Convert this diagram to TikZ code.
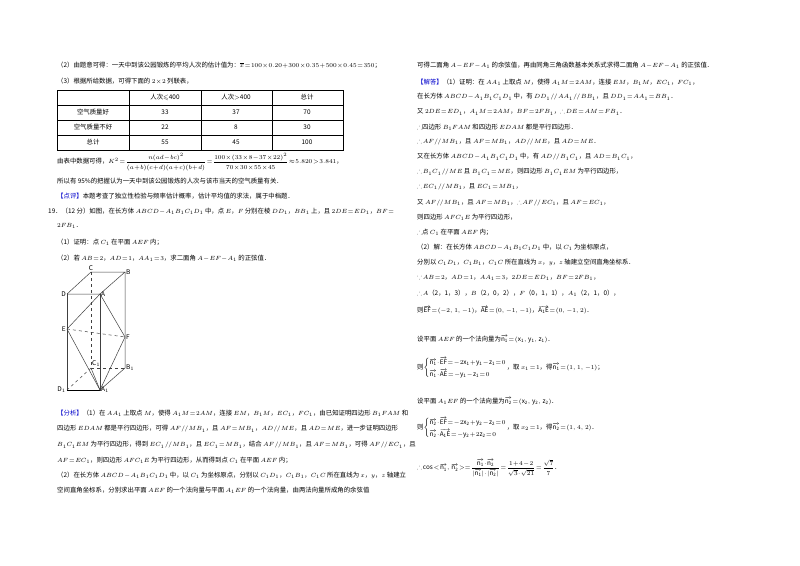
\documentclass[tikz,border=0pt]{standalone}
\usepackage{amsmath,amssymb}
\usepackage{fontspec}
\setmainfont{Noto Sans CJK SC}
\begin{document}
\thinmuskip=1mu \medmuskip=1mu plus 1mu \thickmuskip=1.5mu plus 1mu
\begin{tikzpicture}[x=1pt,y=-1pt,
 t/.style={anchor=west,inner sep=0,font=\fontsize{6.4}{8}\selectfont},
 c/.style={inner sep=0,font=\fontsize{6.4}{8}\selectfont},
 lb/.style={inner sep=1pt,font=\fontsize{6.5}{7}\selectfont\itshape},
 e/.style={line width=0.5pt,black!75},
 d/.style={e,dashed}]
\fill[white] (0,0) rectangle (800,565);
\useasboundingbox (0,0) rectangle (800,565);
\def\bl#1{\textcolor{blue!80!black}{#1}}
\def\pl{\,/\!/\,}
% left column
\node[t] (l1) at (57,65) {（2）由题意可得：一天中到该公园锻炼的平均人次的估计值为：$\overline{x}=100\times0.20+300\times0.35+500\times0.45=350$；};
\node[t] (l2) at (57,81) {（3）根据所给数据，可得下面的 $2\times2$ 列联表，};
\draw[line width=0.6pt] (57,90) rectangle (343,150);
\foreach \y in {105,120,135} \draw[line width=0.5pt] (57,\y) -- (343,\y);
\foreach \x in {129,201,272} \draw[line width=0.5pt] (\x,90) -- (\x,150);
\node[c] (h1) at (165,97.5) {人次$\leqslant$400};
\node[c] (h2) at (236,97.5) {人次$>$400};
\node[c] (h3) at (307,97.5) {总计};
\node[c] (r1) at (93,112.5) {空气质量好};
\node[c] (r1a) at (165,112.5) {33};
\node[c] (r1b) at (236,112.5) {37};
\node[c] (r1c) at (307,112.5) {70};
\node[c] (r2) at (93,127.5) {空气质量不好};
\node[c] (r2a) at (165,127.5) {22};
\node[c] (r2b) at (236,127.5) {8};
\node[c] (r2c) at (307,127.5) {30};
\node[c] (r3) at (93,142.5) {总计};
\node[c] (r3a) at (165,142.5) {55};
\node[c] (r3b) at (236,142.5) {45};
\node[c] (r3c) at (307,142.5) {100};
\node[t] (l3) at (57,162) {由表中数据可得，$K^2=\dfrac{n(ad-bc)^2}{(a+b)(c+d)(a+c)(b+d)}=\dfrac{100\times(33\times8-37\times22)^2}{70\times30\times55\times45}\approx5.820>3.841$，};
\node[t] (l4) at (57,181) {所以有 95\%的把握认为一天中到该公园锻炼的人次与该市当天的空气质量有关．};
\node[t] (l5) at (57,196) {\bl{【点评】}本题考查了独立性检验与频率估计概率，估计平均值的求法，属于中档题．};
\node[t] (l6) at (48,211) {19．（12 分）如图，在长方体 $ABCD-A_1B_1C_1D_1$ 中，点 $E$，$F$ 分别在棱 $DD_1$，$BB_1$ 上，且 $2DE=ED_1$，$BF=$};
\node[t] (l7) at (57,226) {$2FB_1$．};
\node[t] (l8) at (57,242) {（1）证明：点 $C_1$ 在平面 $AEF$ 内；};
\node[t] (l9) at (57,258) {（2）若 $AB=2$，$AD=1$，$AA_1=3$，求二面角 $A-EF-A_1$ 的正弦值．};
% figure
\coordinate (C) at (91,272); \coordinate (B) at (125,272);
\coordinate (D) at (67,294); \coordinate (A) at (100,294);
\coordinate (E) at (67,329); \coordinate (F) at (125,337);
\coordinate (C1) at (91,368); \coordinate (B1) at (125,368);
\coordinate (D1) at (67,390); \coordinate (A1) at (100,390);
\draw[e] (D)--(C)--(B)--(A)--(D);
\draw[e] (D)--(D1)--(A1)--(A); \draw[e] (B)--(B1)--(A1);
\draw[line width=0.9pt] (D1)--(A1);
\draw[d] (C)--(C1)--(B1); \draw[d] (C1)--(D1); \draw[d] (E)--(F);
\draw[e] (E)--(A)--(F)--(A1)--(E); \draw[e] (C1)--(A1);
\node[lb,above] (nC) at (C) {C}; \node[lb,right] (nB) at (B) {B};
\node[lb,left] (nD) at (D) {D}; \node[lb,right] (nA) at (A) {A};
\node[lb,left] (nE) at (E) {E}; \node[lb,right] (nF) at (F) {F};
\node[lb,above right] (nC1) at (C1) {C$_1$}; \node[lb,right] (nB1) at (B1) {B$_1$};
\node[lb,left] (nD1) at (D1) {D$_1$}; \node[lb,right] (nA1) at (A1) {A$_1$};
% analysis
\node[t] (a1) at (57,413) {\bl{【分析】}（1）在 $AA_1$ 上取点 $M$，使得 $A_1M=2AM$，连接 $EM$，$B_1M$，$EC_1$，$FC_1$，由已知证明四边形 $B_1FAM$ 和};
\node[t] (a2) at (57,429) {四边形 $EDAM$ 都是平行四边形，可得 $AF\pl MB_1$，且 $AF=MB_1$，$AD\pl ME$，且 $AD=ME$，进一步证明四边形};
\node[t] (a3) at (57,445) {$B_1C_1EM$ 为平行四边形，得到 $EC_1\pl MB_1$，且 $EC_1=MB_1$，结合 $AF\pl MB_1$，且 $AF=MB_1$，可得 $AF\pl EC_1$，且};
\node[t] (a4) at (57,460) {$AF=EC_1$，则四边形 $AFC_1E$ 为平行四边形，从而得到点 $C_1$ 在平面 $AEF$ 内；};
\node[t] (a5) at (57,475) {（2）在长方体 $ABCD-A_1B_1C_1D_1$ 中，以 $C_1$ 为坐标原点，分别以 $C_1D_1$，$C_1B_1$，$C_1C$ 所在直线为 $x$，$y$，$z$ 轴建立};
\node[t] (a6) at (57,490) {空间直角坐标系，分别求出平面 $AEF$ 的一个法向量与平面 $A_1EF$ 的一个法向量，由两法向量所成角的余弦值};
% right column
\node[t] (b1) at (417,65) {可得二面角 $A-EF-A_1$ 的余弦值，再由同角三角函数基本关系式求得二面角 $A-EF-A_1$ 的正弦值．};
\node[t] (b2) at (417,82) {\bl{【解答】}（1）证明：在 $AA_1$ 上取点 $M$，使得 $A_1M=2AM$，连接 $EM$，$B_1M$，$EC_1$，$FC_1$，};
\node[t] (b3) at (417,97) {在长方体 $ABCD-A_1B_1C_1D_1$ 中，有 $DD_1\pl AA_1\pl BB_1$，且 $DD_1=AA_1=BB_1$．};
\node[t] (b4) at (417,112) {又 $2DE=ED_1$，$A_1M=2AM$，$BF=2FB_1$，$\therefore DE=AM=FB_1$．};
\node[t] (b5) at (417,127) {$\therefore$四边形 $B_1FAM$ 和四边形 $EDAM$ 都是平行四边形．};
\node[t] (b6) at (417,142) {$\therefore AF\pl MB_1$，且 $AF=MB_1$，$AD\pl ME$，且 $AD=ME$．};
\node[t] (b7) at (417,157) {又在长方体 $ABCD-A_1B_1C_1D_1$ 中，有 $AD\pl B_1C_1$，且 $AD=B_1C_1$，};
\node[t] (b8) at (417,172) {$\therefore B_1C_1\pl ME$ 且 $B_1C_1=ME$，则四边形 $B_1C_1EM$ 为平行四边形，};
\node[t] (b9) at (417,187) {$\therefore EC_1\pl MB_1$，且 $EC_1=MB_1$，};
\node[t] (b10) at (417,203) {又 $AF\pl MB_1$，且 $AF=MB_1$，$\therefore AF\pl EC_1$，且 $AF=EC_1$，};
\node[t] (b11) at (417,217) {则四边形 $AFC_1E$ 为平行四边形，};
\node[t] (b12) at (417,232) {$\therefore$点 $C_1$ 在平面 $AEF$ 内；};
\node[t] (b13) at (417,247) {（2）解：在长方体 $ABCD-A_1B_1C_1D_1$ 中，以 $C_1$ 为坐标原点，};
\node[t] (b14) at (417,262) {分别以 $C_1D_1$，$C_1B_1$，$C_1C$ 所在直线为 $x$，$y$，$z$ 轴建立空间直角坐标系．};
\node[t] (b15) at (417,278) {$\because AB=2$，$AD=1$，$AA_1=3$，$2DE=ED_1$，$BF=2FB_1$，};
\node[t] (b16) at (417,293) {$\therefore A$（2，1，3），$B$（2，0，2），$F$（0，1，1），$A_1$（2，1，0），};
\node[t] (b17) at (417,310) {则$\overrightarrow{\mathrm{EF}}=(-2,\ 1,\ -1)$，$\overrightarrow{\mathrm{AE}}=(0,\ -1,\ -1)$，$\overrightarrow{\mathrm{A_1E}}=(0,\ -1,\ 2)$．};
\node[t] (b18) at (417,339) {设平面 $AEF$ 的一个法向量为$\overrightarrow{\mathrm{n_1}}=(\mathrm{x_1},\ \mathrm{y_1},\ \mathrm{z_1})$．};
\node[t] (b19) at (417,368) {则$\left\{\begin{array}{@{}l@{}}\overrightarrow{\mathrm{n_1}}\cdot\overrightarrow{\mathrm{EF}}=-2\mathrm{x_1}+\mathrm{y_1}-\mathrm{z_1}=0\\[2pt] \overrightarrow{\mathrm{n_1}}\cdot\overrightarrow{\mathrm{AE}}=-\mathrm{y_1}-\mathrm{z_1}=0\end{array}\right.$，取 $x_1=1$，得$\overrightarrow{\mathrm{n_1}}=(1,\ 1,\ -1)$；};
\node[t] (b20) at (417,401) {设平面 $A_1EF$ 的一个法向量为$\overrightarrow{\mathrm{n_2}}=(\mathrm{x_2},\ \mathrm{y_2},\ \mathrm{z_2})$．};
\node[t] (b21) at (417,428) {则$\left\{\begin{array}{@{}l@{}}\overrightarrow{\mathrm{n_2}}\cdot\overrightarrow{\mathrm{EF}}=-2\mathrm{x_2}+\mathrm{y_2}-\mathrm{z_2}=0\\[2pt] \overrightarrow{\mathrm{n_2}}\cdot\overrightarrow{\mathrm{A_1E}}=-\mathrm{y_2}+2\mathrm{z_2}=0\end{array}\right.$，取 $x_2=1$，得$\overrightarrow{\mathrm{n_2}}=(1,\ 4,\ 2)$．};
\node[t] (b22) at (417,468) {$\therefore\cos<\overrightarrow{\mathrm{n_1}},\ \overrightarrow{\mathrm{n_2}}>=\dfrac{\overrightarrow{\mathrm{n_1}}\cdot\overrightarrow{\mathrm{n_2}}}{|\overrightarrow{\mathrm{n_1}}|\cdot|\overrightarrow{\mathrm{n_2}}|}=\dfrac{1+4-2}{\sqrt{3}\cdot\sqrt{21}}=\dfrac{\sqrt{7}}{7}$．};
\end{tikzpicture}
\end{document}
